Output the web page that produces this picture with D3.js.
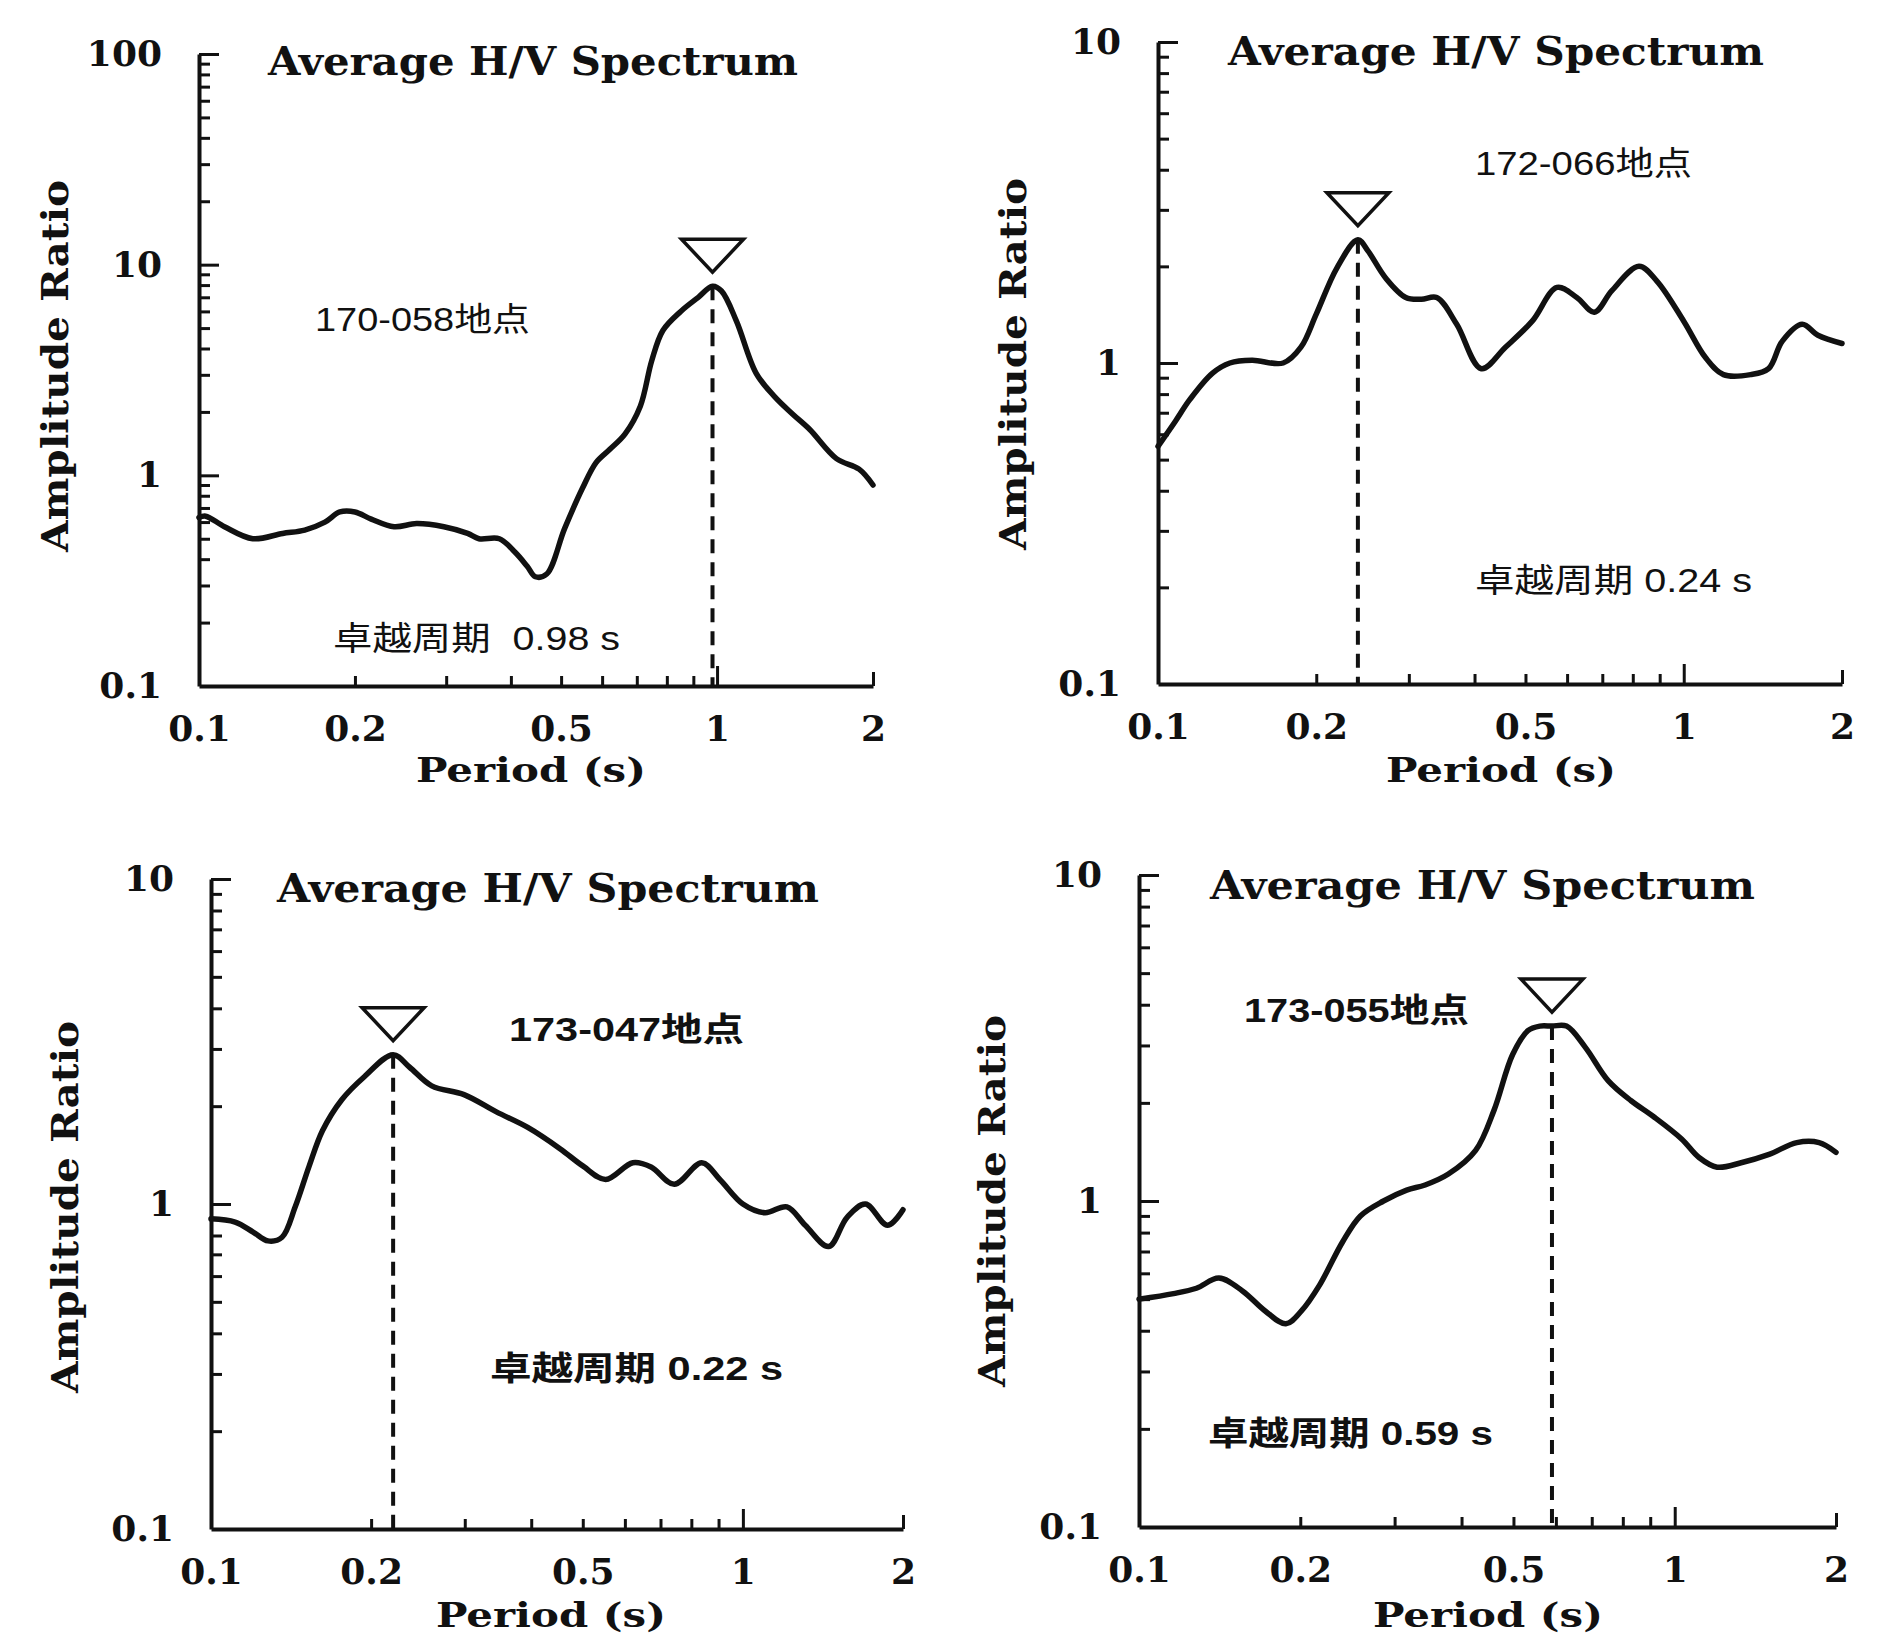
<!DOCTYPE html>
<html>
<head>
<meta charset="utf-8">
<script src="https://cdn.jsdelivr.net/npm/d3@7"></script>
<style>
  html, body { margin: 0; padding: 0; background: #fff; }
  svg { display: block; }
</style>
</head>
<body>
<svg id="chart" width="1888" height="1637"></svg>
<script>
// Average H/V spectral ratios at four sites (period in seconds)
const xTickLabels = [0.1, 0.2, 0.5, 1, 2];
const xMinorTicks = [0.3, 0.4, 0.6, 0.7, 0.8, 0.9];
const yMaxima = [100, 10, 10, 10];
const siteNames = ["170-058地点", "172-066地点", "173-047地点", "173-055地点"];
const peakPeriods = [0.98, 0.24, 0.22, 0.59];
const titleText = "Average H/V Spectrum";
const xAxisTitle = "Period (s)";
const yAxisTitle = "Amplitude Ratio";

// Site 170-058
const periods1 = [0.100, 0.103, 0.112, 0.127, 0.145, 0.160, 0.175, 0.187, 0.200, 0.215,
                  0.238, 0.263, 0.297, 0.330, 0.347, 0.380, 0.408, 0.430, 0.446, 0.469,
                  0.508, 0.550, 0.584, 0.621, 0.664, 0.711, 0.748, 0.786, 0.851, 0.920,
                  0.980, 1.02, 1.09, 1.19, 1.29, 1.40, 1.51, 1.70, 1.88, 2.00];
const ratios1  = [0.63, 0.64, 0.57, 0.50, 0.53, 0.55, 0.60, 0.67, 0.67, 0.62,
                  0.57, 0.59, 0.57, 0.53, 0.50, 0.50, 0.43, 0.37, 0.33, 0.34,
                  0.56, 0.87, 1.15, 1.33, 1.57, 2.13, 3.5, 4.87, 6.0, 7.0,
                  7.9, 7.5, 5.4, 3.05, 2.37, 1.95, 1.65, 1.20, 1.07, 0.90];

// Site 172-066
const periods2 = [0.100, 0.108, 0.115, 0.127, 0.137, 0.151, 0.173, 0.187, 0.200, 0.219,
                  0.240, 0.251, 0.271, 0.296, 0.317, 0.339, 0.370, 0.412, 0.458, 0.515,
                  0.574, 0.626, 0.676, 0.730, 0.822, 0.889, 1.00, 1.10, 1.19, 1.34,
                  1.45, 1.54, 1.68, 1.80, 2.00];
const ratios2  = [0.55, 0.66, 0.77, 0.93, 1.00, 1.02, 1.00, 1.12, 1.42, 1.98,
                  2.42, 2.23, 1.84, 1.60, 1.58, 1.60, 1.32, 0.96, 1.12, 1.35,
                  1.72, 1.60, 1.44, 1.68, 2.00, 1.80, 1.35, 1.04, 0.92, 0.92,
                  0.96, 1.17, 1.32, 1.22, 1.15];

// Site 173-047
const periods3 = [0.100, 0.111, 0.120, 0.128, 0.136, 0.144, 0.153, 0.162, 0.176, 0.194,
                  0.220, 0.236, 0.260, 0.299, 0.344, 0.394, 0.453, 0.500, 0.552, 0.621,
                  0.672, 0.743, 0.837, 0.905, 1.00, 1.10, 1.21, 1.31, 1.45, 1.57,
                  1.70, 1.87, 2.00];
const ratios3  = [0.90, 0.88, 0.82, 0.77, 0.79, 0.98, 1.31, 1.68, 2.09, 2.46,
                  2.88, 2.64, 2.31, 2.17, 1.92, 1.72, 1.48, 1.31, 1.19, 1.34,
                  1.30, 1.15, 1.34, 1.19, 1.00, 0.94, 0.98, 0.86, 0.74, 0.91,
                  1.00, 0.86, 0.96];

// Site 173-055
const periods4 = [0.100, 0.116, 0.128, 0.141, 0.156, 0.172, 0.188, 0.201, 0.217, 0.240,
                  0.259, 0.286, 0.316, 0.342, 0.378, 0.425, 0.460, 0.498, 0.532, 0.560,
                  0.590, 0.628, 0.681, 0.751, 0.829, 0.915, 1.03, 1.11, 1.20, 1.33,
                  1.50, 1.69, 1.86, 2.00];
const ratios4  = [0.50, 0.52, 0.54, 0.58, 0.53, 0.46, 0.42, 0.46, 0.55, 0.75,
                  0.90, 1.00, 1.08, 1.12, 1.21, 1.43, 1.90, 2.81, 3.33, 3.44,
                  3.44, 3.44, 2.96, 2.34, 2.03, 1.81, 1.55, 1.36, 1.27, 1.31,
                  1.39, 1.51, 1.51, 1.41];

const periodSeries = [periods1, periods2, periods3, periods4];
const ratioSeries = [ratios1, ratios2, ratios3, ratios4];

// Panel frames and text placement
const panels = [
  { left: 199, right: 873, top: 54, bottom: 686,
    title: { x: 268, y: 75, w: 530 }, yTitle: { x: 68, y: 366 }, xTitle: { x: 531, y: 782 },
    site: { x: 315, y: 331, w: 215, bold: false },
    note: { x: 333, y: 650, w: 287, bold: false, gap: "\u00a0\u00a0" } },
  { left: 1158, right: 1842, top: 42, bottom: 684,
    title: { x: 1228, y: 65, w: 536 }, yTitle: { x: 1026, y: 364 }, xTitle: { x: 1501, y: 782 },
    site: { x: 1475, y: 175, w: 217, bold: false },
    note: { x: 1475, y: 592, w: 277, bold: false, gap: " " } },
  { left: 211, right: 903, top: 879, bottom: 1529,
    title: { x: 277, y: 902, w: 542 }, yTitle: { x: 78, y: 1207 }, xTitle: { x: 551, y: 1627 },
    site: { x: 509, y: 1041, w: 235, bold: true },
    note: { x: 490, y: 1380, w: 293, bold: true, gap: " " } },
  { left: 1139, right: 1836, top: 875, bottom: 1527,
    title: { x: 1210, y: 899, w: 545 }, yTitle: { x: 1005, y: 1201 }, xTitle: { x: 1488, y: 1627 },
    site: { x: 1244, y: 1022, w: 225, bold: true },
    note: { x: 1208, y: 1445, w: 285, bold: true, gap: " " } }
];

const serif = "'DejaVu Serif', 'Liberation Serif', serif";
const sans = "'Liberation Sans', Arial, 'Noto Sans CJK JP', 'Noto Sans CJK SC', sans-serif";
const ink = "#111";

const svg = d3.select("#chart");
svg.append("rect").attr("width", 1888).attr("height", 1637).attr("fill", "#fff");

// value of the curve at a given period, interpolated in log-log space
function ratioAt(periods, ratios, p) {
  const i = Math.max(1, Math.min(periods.length - 1, d3.bisectLeft(periods, p)));
  const p0 = periods[i - 1], p1 = periods[i];
  const t = (Math.log(p) - Math.log(p0)) / (Math.log(p1) - Math.log(p0));
  return Math.exp(Math.log(ratios[i - 1]) + t * (Math.log(ratios[i]) - Math.log(ratios[i - 1])));
}

panels.forEach((pn, k) => {
  const g = svg.append("g");
  const x = d3.scaleLog().domain([0.1, 2]).range([pn.left, pn.right]);
  const y = d3.scaleLog().domain([0.1, yMaxima[k]]).range([pn.bottom, pn.top]);

  // y axis: decades labelled, 2..9 minor marks
  const decades = [];
  for (let v = 0.1; v <= yMaxima[k] * 1.001; v *= 10) decades.push(+v.toPrecision(3));
  const yMinor = [];
  decades.slice(0, -1).forEach(d => { for (let m = 2; m <= 9; m++) yMinor.push(+(d * m).toPrecision(3)); });

  g.append("g").attr("transform", `translate(${pn.left},0)`)
    .call(d3.axisLeft(y).tickValues(decades).tickSize(-20).tickSizeOuter(0).tickPadding(37)
      .tickFormat(d3.format("~g")))
    .call(s => s.selectAll(".tick line").attr("x2", d => d === 0.1 ? 0 : 20));
  g.append("g").attr("transform", `translate(${pn.left},0)`)
    .call(d3.axisLeft(y).tickValues(yMinor).tickSize(-11).tickSizeOuter(0).tickFormat(""))
    .call(s => s.select(".domain").remove());

  // x axis
  const xAxis = g.append("g").attr("transform", `translate(0,${pn.bottom})`)
    .call(d3.axisBottom(x).tickValues(xTickLabels).tickSize(-10).tickSizeOuter(0).tickPadding(29)
      .tickFormat(d3.format("~g")));
  xAxis.selectAll(".tick line").attr("y2", d => d === 1 ? -20 : d === 2 ? -14 : d === 0.1 ? 0 : -10);
  g.append("g").attr("transform", `translate(0,${pn.bottom})`)
    .call(d3.axisBottom(x).tickValues(xMinorTicks).tickSize(-10).tickSizeOuter(0).tickFormat(""))
    .call(s => s.select(".domain").remove());

  g.selectAll(".domain").attr("stroke", ink).attr("stroke-width", 4);
  g.selectAll(".tick line").attr("stroke", ink).attr("stroke-width", 3);
  g.selectAll(".tick text")
    .attr("fill", ink)
    .style("font-family", serif).style("font-weight", "bold").style("font-size", "36px");

  // spectrum curve
  const pts = periodSeries[k].map((p, i) => [p, ratioSeries[k][i]]);
  g.append("path").datum(pts)
    .attr("fill", "none").attr("stroke", ink).attr("stroke-width", 5.5)
    .attr("stroke-linejoin", "round").attr("stroke-linecap", "round")
    .attr("d", d3.line().x(d => x(d[0])).y(d => y(d[1])).curve(d3.curveCatmullRom.alpha(0.5)));

  // predominant period marker
  const pk = peakPeriods[k];
  const pv = ratioAt(periodSeries[k], ratioSeries[k], pk);
  const px = x(pk), py = y(pv);
  g.append("line")
    .attr("x1", px).attr("x2", px).attr("y1", py).attr("y2", pn.bottom)
    .attr("stroke", ink).attr("stroke-width", 4).attr("stroke-dasharray", "14,9");
  const tipY = py - 14, tw = 31, th = 33;
  g.append("path")
    .attr("d", `M${px - tw},${tipY - th} L${px + tw},${tipY - th} L${px},${tipY} Z`)
    .attr("fill", "#fff").attr("stroke", ink).attr("stroke-width", 3.5).attr("stroke-linejoin", "miter");

  // titles
  g.append("text").attr("x", pn.title.x).attr("y", pn.title.y)
    .attr("textLength", pn.title.w).attr("lengthAdjust", "spacingAndGlyphs")
    .style("font-family", serif).style("font-weight", "bold").style("font-size", "40px")
    .attr("fill", ink).text(titleText);

  g.append("text").attr("x", pn.xTitle.x).attr("y", pn.xTitle.y).attr("text-anchor", "middle")
    .attr("textLength", 230).attr("lengthAdjust", "spacingAndGlyphs")
    .style("font-family", serif).style("font-weight", "bold").style("font-size", "34px")
    .attr("fill", ink).text(xAxisTitle);

  g.append("text")
    .attr("transform", `translate(${pn.yTitle.x},${pn.yTitle.y}) rotate(-90)`)
    .attr("text-anchor", "middle")
    .attr("textLength", 372).attr("lengthAdjust", "spacingAndGlyphs")
    .style("font-family", serif).style("font-weight", "bold").style("font-size", "37px")
    .attr("fill", ink).text(yAxisTitle);

  // site name and predominant period annotation
  g.append("text").attr("x", pn.site.x).attr("y", pn.site.y)
    .attr("textLength", pn.site.w).attr("lengthAdjust", "spacingAndGlyphs")
    .style("font-family", sans).style("font-weight", pn.site.bold ? "bold" : "normal")
    .style("font-size", "33px").attr("fill", ink).text(siteNames[k]);

  g.append("text").attr("x", pn.note.x).attr("y", pn.note.y)
    .attr("textLength", pn.note.w).attr("lengthAdjust", "spacingAndGlyphs")
    .style("font-family", sans).style("font-weight", pn.note.bold ? "bold" : "normal")
    .style("font-size", "33px").attr("fill", ink)
    .text(`卓越周期${pn.note.gap}${pk} s`);
});
</script>
</body>
</html>
